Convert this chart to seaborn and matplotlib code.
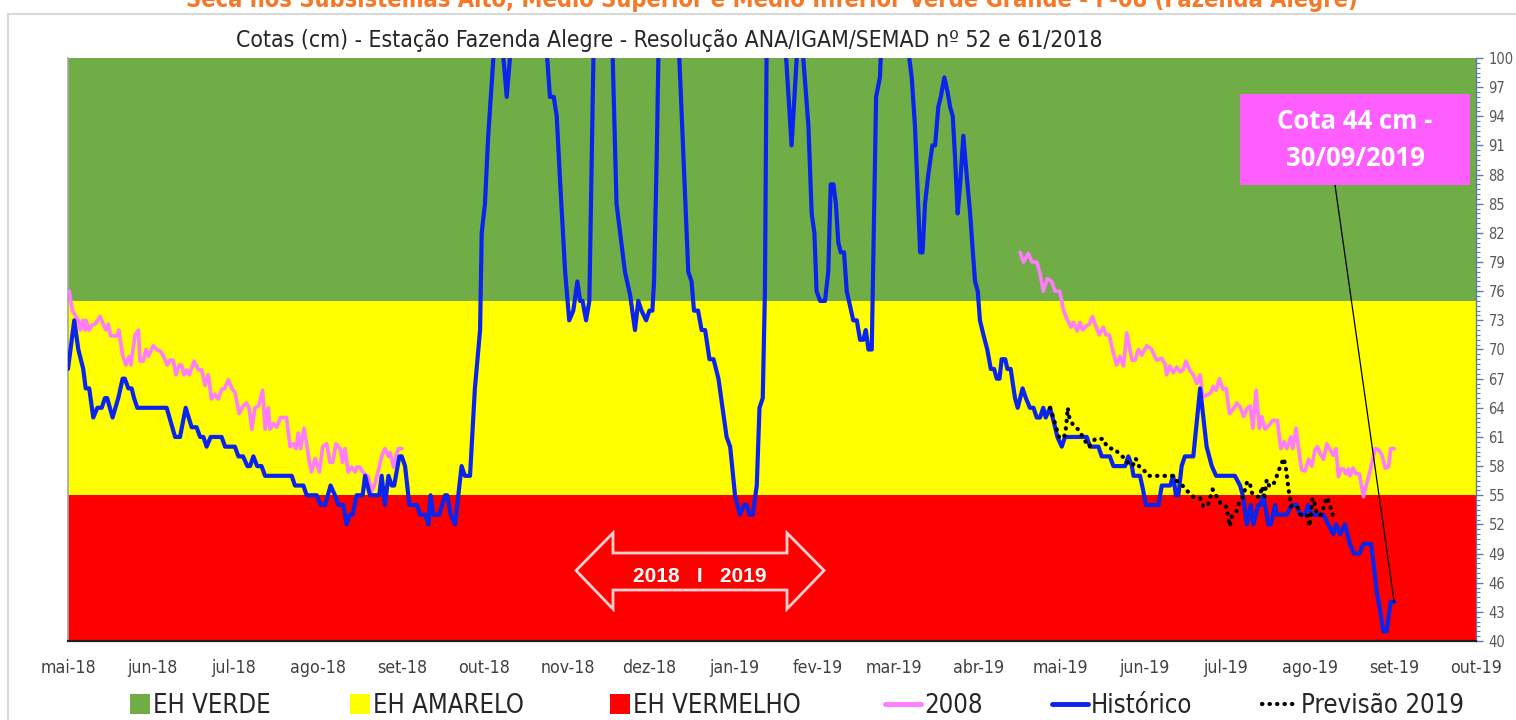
import numpy as np
import pandas as pd
import matplotlib
matplotlib.use("Agg")
import matplotlib.pyplot as plt
import seaborn as sns
from matplotlib.patches import Patch, Rectangle, Polygon
from matplotlib.lines import Line2D

# ---------------- data ----------------
start_date = "2018-05-01"
month_ticks = pd.date_range("2018-05-01", "2019-10-01", freq="MS")
month_labels = ["mai-18", "jun-18", "jul-18", "ago-18", "set-18", "out-18", "nov-18", "dez-18",
                "jan-19", "fev-19", "mar-19", "abr-19", "mai-19", "jun-19", "jul-19", "ago-19",
                "set-19", "out-19"]
y_ticks = list(range(40, 101, 3))
band_limits = [40, 55, 75, 100]
band_names = ["EH VERMELHO", "EH AMARELO", "EH VERDE"]

# Histórico: days since 2018-05-01 and level (cm)
hist_day = [0, 2.3, 3.8, 5.6, 6.5, 7.8, 9.3, 10.8, 12.4, 13.6, 14.4, 16.4, 18.5, 20.1, 20.9, 22.2,
            23.4, 24.3, 25.5, 36.3, 39.4, 41.2, 43.3, 45.5, 47.3, 48.6, 49.8, 51, 52.5, 56.5, 57.8,
            61.4, 62.7, 64.4, 66, 67, 68.2, 69.6, 71.2, 72.5, 82.3, 83.5, 86.6, 87.8, 91.5, 93,
            94.6, 96.6, 98.2, 99.5, 101.3, 102.5, 103.7, 104.7, 106.2, 108.4, 109.3, 111.1, 114.5,
            115.4, 116.6, 117.9, 119.1, 120, 121.9, 122.8, 124, 125.6, 128.3, 129.5, 131.4, 132.6,
            133.4, 134.4, 136.6, 138.7, 139.5, 140.8, 142.4, 144.8, 146, 147.9, 149.7, 151.6,
            152.2, 153.4, 154.6, 156.5, 158.3, 160.2, 161.4, 162.6, 169, 176.3, 177.3, 178.7,
            179.8, 181.1, 182.9, 184.4, 185.9, 187.4, 188.4, 189.3, 190.6, 191.8, 192.7, 193.3,
            197, 200.4, 201.8, 204.9, 206.8, 208.6, 209.8, 211, 212.7, 213.9, 215, 215.6, 216.6,
            217.2, 221, 224.9, 226.4, 228.2, 229.4, 230.3, 231.8, 233.1, 234.4, 236, 237.5, 239.3,
            242.3, 243.6, 245.4, 247.2, 248.7, 249.7, 250.7, 251.9, 253.4, 254.4, 255.6, 256.4,
            257, 260, 264.2, 266.2, 268.1, 269.3, 270.5, 272.4, 273.6, 274.6, 275.4, 276.7, 278.5,
            279.7, 280.6, 281.6, 282.5, 283.4, 284.3, 285.5, 286.5, 288.9, 290.2, 291.4, 292.6,
            293.5, 294.5, 295.7, 296.3, 297.3, 298.7, 299, 304, 309.5, 310.4, 311.6, 313.5, 314.4,
            315.3, 316.5, 318, 319, 320.2, 321.1, 322.4, 323.6, 324.5, 325.5, 326.3, 327.3, 328.2,
            329.4, 330.6, 331.9, 332.9, 333.7, 334.7, 335.5, 336.8, 338.2, 339.5, 340.7, 341.7,
            342.7, 343.5, 344.8, 345.6, 346.8, 348.4, 349.4, 351.2, 352.4, 353.9, 355.2, 356.4,
            357.6, 358.8, 359.7, 361.3, 362.8, 364, 365.6, 366.8, 374.8, 376, 379.1, 380.3, 383.3,
            384.6, 388.9, 390.1, 391.4, 392, 394.4, 395.4, 396.6, 401.2, 402.4, 405.5, 406.6,
            407.6, 408.5, 409.7, 410.9, 414, 416.5, 417.7, 418.9, 420.8, 422.4, 429.3, 431.2,
            432.2, 433.7, 435.1, 436.1, 437.9, 438.8, 439.8, 441.6, 442.5, 444.1, 444.7, 448.4,
            450.2, 452, 453.3, 455.1, 456.3, 457.6, 461.8, 463.7, 465.5, 466.5, 468, 469.8, 471.6,
            473.1, 475.1, 476.6, 479.4, 480.3, 481.5, 482.7, 483.9, 485.1, 486.6, 487.9]
hist_cm = [68, 73, 70, 68, 66, 66, 63, 64, 64, 65, 65, 63, 65, 67, 67, 66,
           66, 65, 64, 64, 61, 61, 64, 62, 62, 61, 61, 60, 61, 61, 60,
           60, 59, 59, 58, 58, 59, 58, 58, 57, 57, 56, 56, 55, 55, 54,
           54, 56, 55, 54, 54, 52, 53, 53, 55, 55, 57, 55, 55,
           57, 54, 57, 56, 56, 59, 59, 58, 54, 54, 53, 53, 52,
           55, 53, 53, 55, 55, 53, 52, 58, 57, 57, 66, 72,
           82, 85, 92, 100, 104, 100, 96, 100, 110, 100, 96, 96,
           94, 87, 78, 73, 74, 77, 75, 75, 73, 75, 90, 100,
           108, 100, 85, 78, 75.6, 72, 75, 74, 73, 74, 74, 77, 90,
           100, 108, 100, 90, 78, 77, 74, 74, 72, 72, 69, 69, 67,
           61, 60, 55, 53, 54, 54, 53, 53, 56, 64, 65, 76,
           100, 110, 100, 91, 100, 103, 100, 93, 84, 82, 76, 75, 75,
           78, 87, 87, 85, 81, 80, 80, 76, 73, 73, 71, 71,
           72, 70, 70, 80, 96, 98, 100, 108, 100, 98, 93, 80, 80,
           85, 88, 91, 91, 95, 96, 98, 96.5, 95, 94, 90, 84, 87,
           92, 88, 84, 80, 77, 76, 73, 71.5, 70, 68, 68, 67,
           67, 69, 69, 68, 68, 65, 64, 66, 65, 64, 64, 63,
           63, 64, 63, 64, 62.4, 61, 60, 61, 61, 60, 60, 59, 59,
           58, 58, 59, 58, 57, 57, 55.7, 54, 54, 56, 56, 57,
           55, 55, 58, 59, 59, 66, 63, 60, 58, 57, 57, 56,
           55, 52, 54, 52, 54, 54, 55, 52, 52, 54, 53, 53,
           54, 54, 53, 53, 54, 53, 53, 52, 51, 52, 51, 52, 50,
           49, 49, 50, 50, 48, 45, 43.2, 41, 41, 44, 44]

# 2008 reference year (two visible stretches)
y2008_day_a = [0.5, 1.6, 3.8, 4.6, 5.5, 6.3, 6.6, 7.8, 8.8, 10, 11.8, 13, 14, 14.8, 15.7, 18.1,
               18.7, 20.1, 21.3, 22.5, 23.1, 24.7, 25.9, 26.5, 27.7, 28.7, 29.6, 31.4, 32.6, 34.1,
               35.3, 36.5, 37.5, 38.7, 39.7, 40.9, 41.8, 42.7, 43.7, 44.6, 46.4, 48, 49.2, 50.4,
               51.6, 52.8, 54, 55.3, 56.5, 57.7, 59, 60.2, 61.4, 63, 64.4, 65.7, 66.6, 67.6, 68.8,
               70.1, 71.6, 72.5, 73.7, 74.3, 75.5, 76.8, 78.2, 80.4, 81.7, 82.9, 83.9, 84.7, 85.6,
               86.8, 87.8, 88.8, 89.6, 90.9, 92.5, 93.7, 95.2, 96.4, 97.4, 98.6, 100.1, 101, 101.9,
               103.1, 104.3, 105.6, 106.2, 107.4, 108.4, 109.2, 110.5, 111.7, 113, 114.2, 115.4,
               116.6, 117.9, 118.5, 119.7, 120.6, 121.5, 122.8]
y2008_cm_a = [76, 74, 73, 72, 73, 72, 73, 72, 72.5, 72.6, 73.4, 72.6, 72, 72.6, 71.4, 71.4,
              72, 69.4, 68.4, 69.3, 68.4, 71.5, 72, 68.8, 68.8, 70, 69.3, 70.4, 70, 69.8,
              69.2, 68.4, 68.9, 68.9, 67.4, 68.4, 68.4, 67.4, 67.9, 67.4, 68.8, 67.9, 67.9, 66.3,
              67.4, 64.9, 65.4, 64.9, 65.9, 66, 66.9, 66, 65.6, 63.4, 64.2, 64.5, 64, 61.8, 64,
              64.2, 65.8, 61.8, 64, 61.8, 62.4, 62, 63, 63, 60, 60.3, 59.8, 61.4, 59.8,
              61.9, 60.3, 58.4, 57.4, 58.8, 57.4, 60, 60.3, 58.4, 58.4, 60.3, 59.8, 58.4, 59.8,
              57.4, 57.9, 57.4, 57.9, 57.9, 57.4, 57.2, 56.9, 55.4, 56.2, 57.6, 59,
              59.8, 59, 59.4, 57.9, 59, 59.8, 59.8]
y2008_day_b = [350.3, 351.5, 353.3, 354.6, 356.4, 357.6, 358.8, 360.3, 361.9, 363.1, 364.9, 366.2,
               367.4, 369, 369.9, 371.3, 372.3, 373.3, 374.5, 375.7, 376.9, 378.3, 379.4, 380.9,
               381.9, 383.1, 384.6, 385.8, 387, 388.3, 389.5, 390.5, 391.4, 392.6, 393.8, 395,
               396.9, 398.7, 399.6, 400.5, 402.4, 403.6, 404.2, 405.4, 406.6, 407.9, 409.1, 410.3,
               411.3, 412.8, 414, 415.3, 416.5, 417.5, 418.9, 420.2, 421.4, 422.4, 423.6, 424.9,
               426.1, 427.3, 428.8, 430, 431.2, 432.5, 433.7, 434.9, 435.9, 437.1, 438.3, 439.2,
               440.4, 441.6, 443.2, 444.9, 446.2, 447.4, 448.4, 449.9, 450.6, 451.8, 453.1, 453.9,
               455.1, 456.4, 457.6, 458.8, 459.7, 460.6, 461.9, 463.1, 464.3, 465.5, 466.5, 467.4,
               468.3, 469.2, 470.2, 471.1, 471.7, 472.7, 473.9, 475.1, 476.6, 477.8, 479, 480.9,
               482.1, 483.3, 484.6, 485.8, 486.6, 487.9]
y2008_cm_b = [80, 79, 79.9, 79, 79, 77.8, 76, 77.3, 77, 76, 76, 74.1,
              73.2, 72.3, 72.8, 71.9, 72.8, 72, 72.4, 72.6, 73.4, 72.3, 71.5, 72.3,
              71.5, 71.5, 69.6, 68.4, 69.3, 68.3, 71.7, 70.3, 68.9, 68.9, 70, 69.4,
              70.4, 70, 69.4, 68.9, 69.1, 68.5, 67.4, 68.3, 67.6, 68.2, 67.7, 67.9,
              68.8, 67.8, 67.4, 66.5, 67.4, 65.1, 65.3, 65.5, 66.2, 65.8, 67, 65.9,
              66, 63.4, 63.9, 64.5, 64.1, 63.1, 63.9, 64.2, 61.9, 65.8, 61.9, 63.1,
              61.8, 62.1, 62.7, 62.7, 59.8, 60.5, 59.8, 61, 59.8, 61.9, 59, 57.6,
              57.5, 58.7, 58, 59.7, 60, 59.3, 58.7, 60.3, 59.7, 59.1, 59.8, 56.9,
              57.7, 57.7, 57.2, 57.7, 57, 57.8, 57.2, 57.2, 54.85, 56.2, 57.5, 59.8,
              59.7, 59.2, 57.8, 57.9, 59.8, 59.8]

# Previsão 2019
prev_day = [361.3, 362.5, 363.5, 364.6, 366.4, 367.2, 367.8, 368.4, 369.8, 372, 373.3, 374.8,
            375.7, 377.9, 379.4, 380.9, 382.2, 383.8, 385, 386.6, 388.7, 390.6, 391.8, 392.8,
            394, 395.5, 397.4, 400.5, 403.2, 406.6, 407.8, 410.4, 412.2, 414, 416.5, 417.7,
            419.5, 421.1, 422.6, 424.4, 426.2, 426.8, 427.4, 428.2, 429.8, 430.8, 432.3, 433.8,
            434.8, 435.4, 437.2, 438.5, 439.2, 440.2, 441, 442, 443, 444, 445.2, 446.5, 447.3,
            448.1, 448.9, 449.4, 450.1, 452.2, 453.4, 454.6, 455.8, 456.8, 457.6, 457.8, 458.8,
            459.5, 461.1, 462, 463.2, 464.2, 465.1, 466.3]
prev_cm = [64, 63, 62, 61, 60.9, 62, 64, 63, 62.2, 61.7, 61, 60.3,
           60, 60.8, 60.8, 60.8, 60, 59.8, 59.8, 59.3, 58.8, 58.1, 58.1, 58.8,
           58, 57.7, 57, 57, 57, 57, 56.5, 55.9, 55.3, 54.85, 54.7, 53.8,
           54.1, 55.6, 54.85, 54, 53.8, 52.8, 51.8, 52.8, 53.3, 54.2, 54.85, 56.4,
           56.3, 55.3, 54.85, 54.85, 55.9, 54.9, 56.6, 55.9, 56, 56.4, 57.4, 58.3, 58.8,
           57.7, 55.9, 54.9, 53.8, 53.8, 53, 53, 53, 51.8, 53.8, 54.7, 54,
           53, 53, 53.9, 54.8, 54, 53.1, 52.4]

title_text = "Cotas (cm) - Estação Fazenda Alegre - Resolução ANA/IGAM/SEMAD nº 52 e 61/2018"
top_title = "Seca nos Subsistemas Alto, Médio Superior e Médio Inferior Verde Grande - F-08 (Fazenda Alegre)"
note_text = "Cota 44 cm -\n30/09/2019"
arrow_text = "2018   I   2019"
legend_labels = [band_names[2], band_names[1], band_names[0], "2008", "Histórico", "Previsão 2019"]

# ---------------- helpers ----------------
base = pd.Timestamp(start_date)


def to_dates(days):
    return base + pd.to_timedelta(np.asarray(days, dtype=float), unit="D")


sns.set_style("white")
plt.rcParams["font.family"] = ["DejaVu Sans"]
plt.rcParams["font.stretch"] = "condensed"

COL_GREEN = "#70AD47"
COL_YELLOW = "#FFFF00"
COL_RED = "#FF0000"
COL_PINK = "#FF7BFF"
COL_BLUE = "#0A24EE"
COL_BOX = "#FF5EFF"
DOTS = (0, (0.1, 1.7))

fig = plt.figure(figsize=(15.16, 7.2), dpi=100)
ax = fig.add_axes([68 / 1516, 1 - 641 / 720, 1408 / 1516, 583 / 720])
renderer = fig.canvas.get_renderer()


def fit_width(t, target_px):
    w = t.get_window_extent(renderer).width
    t.set_fontsize(t.get_fontsize() * target_px / w)


# bands
band_colors = [COL_RED, COL_YELLOW, COL_GREEN]
for lo, hi, c in zip(band_limits[:-1], band_limits[1:], band_colors):
    ax.axhspan(lo, hi, color=c, zorder=0, lw=0)

df_hist = pd.DataFrame({"data": to_dates(hist_day), "cota": hist_cm})
df_a = pd.DataFrame({"data": to_dates(y2008_day_a), "cota": y2008_cm_a})
df_b = pd.DataFrame({"data": to_dates(y2008_day_b), "cota": y2008_cm_b})
df_prev = pd.DataFrame({"data": to_dates(prev_day), "cota": prev_cm})

for d in (df_a, df_b):
    sns.lineplot(data=d, x="data", y="cota", ax=ax, color=COL_PINK, lw=2.6,
                 estimator=None, sort=False, zorder=3, solid_joinstyle="round")
sns.lineplot(data=df_hist, x="data", y="cota", ax=ax, color=COL_BLUE, lw=3.0,
             estimator=None, sort=False, zorder=4, solid_joinstyle="round")
sns.lineplot(data=df_prev, x="data", y="cota", ax=ax, color="black", lw=3.0,
             estimator=None, sort=False, zorder=5, linestyle=DOTS,
             dash_capstyle="round")

ax.set_xlim(month_ticks[0], month_ticks[-1])
ax.set_ylim(band_limits[0], band_limits[-1])
ax.set_xlabel("")
ax.set_ylabel("")

ax.set_xticks(month_ticks)
ax.set_xticklabels(month_labels, fontsize=14, color="#404040")
ax.tick_params(axis="x", direction="out", length=7, width=1, color="#404040", pad=6)

ax.yaxis.tick_right()
ax.set_yticks(y_ticks)
ax.set_yticklabels([str(v) for v in y_ticks], fontsize=10.5, color="#595959")
ax.set_yticks(np.arange(band_limits[0], band_limits[-1] + 0.1, 0.5), minor=True)
ax.tick_params(axis="y", which="major", direction="out", length=5, width=1, color="#5b7bb5", pad=4)
ax.tick_params(axis="y", which="minor", direction="out", length=3, width=0.8, color="#5b7bb5")

ax.spines["top"].set_visible(False)
ax.spines["left"].set_color("#a6a6a6")
ax.spines["left"].set_linewidth(1.2)
ax.spines["right"].set_color("#5b7bb5")
ax.spines["right"].set_linewidth(1)
ax.spines["bottom"].set_color("#202020")
ax.spines["bottom"].set_linewidth(1.6)
ax.grid(False)

# fit x tick label widths (~56 px for "mai-18")
lab0 = ax.get_xticklabels()[0]
w0 = lab0.get_window_extent(renderer).width
xt_size = 14 * 56 / w0
for lab in ax.get_xticklabels():
    lab.set_fontsize(xt_size)

# title
t1 = fig.text(669 / 1516, 1 - 41 / 720, title_text, ha="center", va="center",
              fontsize=17, color="#262626")
fit_width(t1, 865)
# cut-off orange heading at the very top
t2 = fig.text(772 / 1516, 1 + 1 / 720, top_title, ha="center", va="center",
              fontsize=16, color="#F47A2A", fontweight="bold")
fit_width(t2, 1175)
# outer frame
fig.add_artist(Rectangle((8 / 1516, -0.05), 1.1, 1.05 - 14 / 720, transform=fig.transFigure,
                         fill=False, edgecolor="#d9d9d9", lw=1.5))


def axf(px, py):
    return ((px - 68) / 1408, (641 - py) / 583)


# double arrow 2018 I 2019
arrow_px = [(576, 570.5), (613, 533), (613, 553), (787, 553), (787, 533), (824, 570.5),
            (787, 609), (787, 590), (613, 590), (613, 609)]
ax.add_patch(Polygon([axf(*p) for p in arrow_px], closed=True, transform=ax.transAxes,
                     facecolor=COL_RED, edgecolor="#ffd0d0", lw=2, zorder=6))
tx, ty = axf(700, 577)
ax.text(tx, ty, arrow_text, transform=ax.transAxes, ha="center", va="center",
        fontsize=15, fontweight="bold", color="white", family="Liberation Sans",
        fontstretch="normal", zorder=7)

# annotation box
bx0, by0 = axf(1240, 185)
bx1, by1 = axf(1470, 94)
ax.add_patch(Rectangle((bx0, by0), bx1 - bx0, by1 - by0, transform=ax.transAxes,
                       facecolor=COL_BOX, edgecolor="none", zorder=8))
cx, cy = axf(1355, 140)
ax.text(cx, cy, note_text, transform=ax.transAxes, ha="center", va="center",
        fontsize=18.5, fontweight="bold", color="white", family="Open Sans",
        fontstretch="normal", linespacing=1.45, zorder=9)
lx, ly = axf(1335, 185)
ax.annotate("", xy=(df_hist["data"].iloc[-1], hist_cm[-1]), xycoords="data",
            xytext=(lx, ly), textcoords="axes fraction",
            arrowprops=dict(arrowstyle="-", color="black", lw=0.9, shrinkA=0, shrinkB=0),
            zorder=7)

# legend: one entry per anchored legend, at the reference positions
handles = [Patch(facecolor=COL_GREEN, edgecolor="none"),
           Patch(facecolor=COL_YELLOW, edgecolor="none"),
           Patch(facecolor=COL_RED, edgecolor="none"),
           Line2D([], [], color=COL_PINK, lw=3.5),
           Line2D([], [], color=COL_BLUE, lw=3.5),
           Line2D([], [], color="black", lw=3.0, linestyle=DOTS, dash_capstyle="round")]
entry_left = [130, 350, 610, 885, 1052, 1262]
text_width = [129, 167, 157, 55, 98, 158]
leg_size = 17
total_w = 0
for lab in legend_labels:
    probe = fig.text(0, 0, lab, fontsize=leg_size)
    total_w += probe.get_window_extent(renderer).width
    probe.remove()
leg_size = leg_size * sum(text_width) / total_w
fs_px = leg_size * 100 / 72
for h, lab, xl in zip(handles, legend_labels, entry_left):
    is_patch = isinstance(h, Patch)
    hl = (20 if is_patch else 36) / fs_px
    fig.legend([h], [lab], loc="center left", bbox_to_anchor=(xl / 1516, 1 - 706 / 720),
               frameon=False, fontsize=leg_size, handlelength=hl,
               handleheight=20 / fs_px if is_patch else 0.7,
               handletextpad=0.12, borderpad=0, borderaxespad=0, labelcolor="#262626")

fig.savefig("out.png", dpi=100)
